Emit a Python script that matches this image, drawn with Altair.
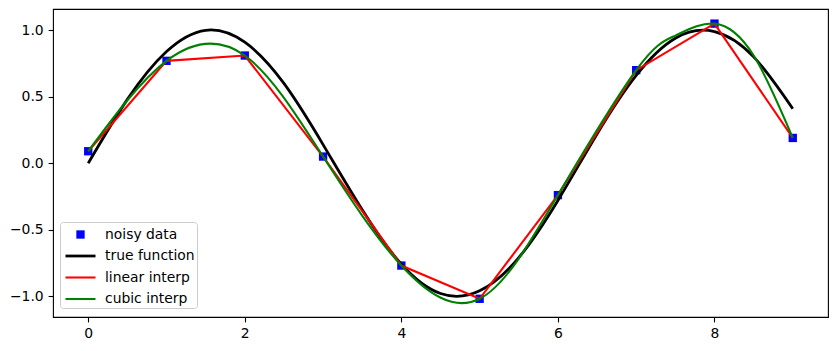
import altair as alt
import pandas as pd

# noisy samples
x_data = [0, 1, 2, 3, 4, 5, 6, 7, 8, 9]
y_noisy = [0.09, 0.77, 0.81, 0.05, -0.77, -1.02, -0.24, 0.70, 1.05, 0.19]

# true function
x_true = [0, 0.5, 1, 1.5, 2, 2.5, 3, 3.5, 4, 4.5, 5, 5.5, 6, 6.5, 7, 7.5, 8, 8.5, 9]
y_true = [0.0, 0.48, 0.84, 1.0, 0.91, 0.60, 0.14, -0.35, -0.76, -0.98, -0.96,
          -0.71, -0.28, 0.22, 0.66, 0.94, 0.99, 0.80, 0.41]

# cubic interpolation curve
x_cubic = [0, 1, 2, 3, 4, 5, 6, 7, 7.5, 8, 8.5, 9]
y_cubic = [0.09, 0.77, 0.81, 0.05, -0.77, -1.02, -0.24, 0.70,
           0.96, 1.05, 0.81, 0.19]

series = ["noisy data", "true function", "linear interp", "cubic interp"]
colors = ["#0000ff", "#000000", "#ff0000", "#008000"]
legend_shapes = [
    "M-0.397,-0.397H0.397V0.397H-0.397Z",
    "M-1.43,-0.132H1.43V0.132H-1.43Z",
    "M-1.43,-0.099H1.43V0.099H-1.43Z",
    "M-1.43,-0.099H1.43V0.099H-1.43Z",
]

FONT = "DejaVu Sans"

df_pts = pd.DataFrame({"x": x_data, "y": y_noisy, "series": series[0]})
df_true = pd.DataFrame({"x": x_true, "y": y_true})
df_lin = pd.DataFrame({"x": x_data, "y": y_noisy})
df_cub = pd.DataFrame({"x": x_cubic, "y": y_cubic})

xs = alt.Scale(domain=[-0.45, 9.45], nice=False, zero=False)
ys = alt.Scale(domain=[-1.157, 1.16], nice=False, zero=False)

xenc = alt.X("x:Q", scale=xs, title=None,
             axis=alt.Axis(values=[0, 2, 4, 6, 8], format="d"))
yenc = alt.Y("y:Q", scale=ys, title=None,
             axis=alt.Axis(values=[-1, -0.5, 0, 0.5, 1], format=".1f"))

points = alt.Chart(df_pts).mark_point(filled=True, size=441, opacity=1).encode(
    x=xenc, y=yenc,
    color=alt.Color("series:N", scale=alt.Scale(domain=series, range=colors), title=None),
    shape=alt.Shape("series:N", scale=alt.Scale(domain=series, range=legend_shapes), title=None),
)

true_line = alt.Chart(df_true).mark_line(
    color="#000000", strokeWidth=2.78, interpolate="natural"
).encode(x=xenc, y=yenc)

lin_line = alt.Chart(df_lin).mark_line(
    color="#ff0000", strokeWidth=2.08
).encode(x=xenc, y=yenc)

cub_line = alt.Chart(df_cub).mark_line(
    color="#008000", strokeWidth=2.08, interpolate="natural"
).encode(x=xenc, y=yenc)

chart = alt.layer(points, true_line, lin_line, cub_line).properties(
    width=775, height=308,
    autosize=alt.AutoSizeParams(type="none"),
    padding={"left": 53, "top": 9, "right": 10, "bottom": 34},
).configure_view(
    stroke="#000000", strokeWidth=1.1
).configure_axis(
    domain=False, grid=False,
    tickColor="#000000", tickSize=4.9, tickWidth=1.1,
    labelFont=FONT, labelFontSize=13.9, labelColor="#000000", labelPadding=4.9,
).configure_legend(
    orient="none", legendX=7, legendY=213,
    padding=2, fillColor="rgba(255,255,255,0.8)", strokeColor="#cccccc",
    cornerRadius=3, labelFont=FONT, labelFontSize=13.9, labelColor="#000000",
    symbolSize=441, symbolOffset=8, labelOffset=14, rowPadding=3.5,
    symbolStrokeWidth=0, symbolOpacity=1,
)

chart.save("out.html", embed_options={"renderer": "svg", "actions": False})
